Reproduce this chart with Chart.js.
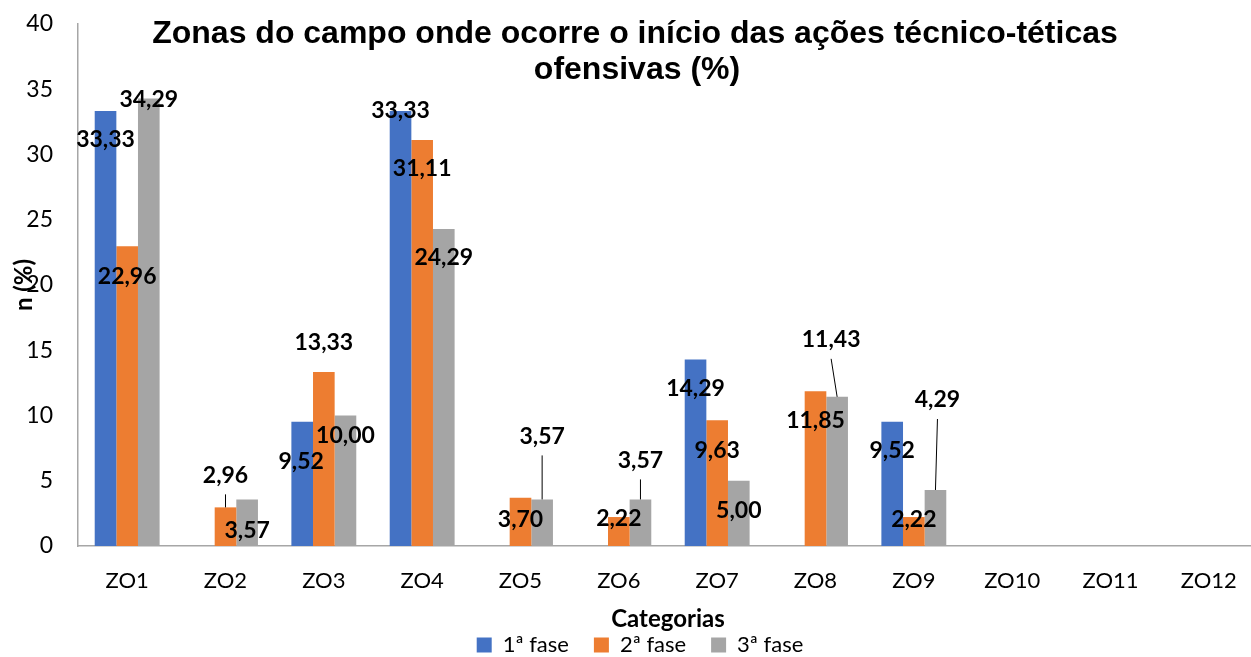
<!DOCTYPE html>
<html>
<head>
<meta charset="utf-8">
<script src="https://cdn.jsdelivr.net/npm/chart.js@4.4.1/dist/chart.umd.min.js"></script>
<style>
html, body { margin: 0; padding: 0; background: #fff; overflow: hidden; }
#wrap { width: 1280px; height: 657px; position: relative; }
</style>
</head>
<body>
<div id="wrap"><canvas id="c"></canvas></div>
<script>
// ---- data ----
const categories = ['ZO1', 'ZO2', 'ZO3', 'ZO4', 'ZO5', 'ZO6', 'ZO7', 'ZO8', 'ZO9', 'ZO10', 'ZO11', 'ZO12'];
const seriesNames = ['1ª fase', '2ª fase', '3ª fase'];
const fase1 = [33.33, null, 9.52, 33.33, null, null, 14.29, null, 9.52, null, null, null];
const fase2 = [22.96, 2.96, 13.33, 31.11, 3.70, 2.22, 9.63, 11.85, 2.22, null, null, null];
const fase3 = [34.29, 3.57, 10.00, 24.29, 3.57, 3.57, 5.00, 11.43, 4.29, null, null, null];
const yTicks = [0, 5, 10, 15, 20, 25, 30, 35, 40];
const titleLines = ['Zonas do campo onde ocorre o início das ações técnico-téticas', 'ofensivas (%)'];
const xTitle = 'Categorias';
const yTitle = 'n (%)';

// ---- styles ----
const colors = ['#4472C4', '#ED7D31', '#A5A5A5'];
const axisColor = '#a6a6a6';
const FONT = 'Lato';

// data-label placement relative to the bar top (dx, dy in px; leader = connector line)
const labelPlacement = [
  [[0, 29], null, [-1, 40], [0, 0], null, null, [0, 29], null, [0, 29], null, null, null],
  [[0, 30], [0, -32, true], [0, -29], [0, 29], [0, 22], [0, 2], [0, 30], [0, 29], [0, 3], null, null, null],
  [[0, 1], [0, 31], [0, 20], [0, 29], [0, -63, true], [0, -39, true], [0, 30], [-6, -57, true], [2, -90, true], null, null, null]
];

const fmt = v => v.toFixed(2).replace('.', ',');

const decorPlugin = {
  id: 'decor',
  afterDatasetsDraw(chart) {
    const ctx = chart.ctx;
    ctx.save();
    ctx.font = 'bold 23px ' + FONT;
    ctx.textAlign = 'center';
    ctx.textBaseline = 'middle';
    chart.data.datasets.forEach((ds, i) => {
      const meta = chart.getDatasetMeta(i);
      meta.data.forEach((el, j) => {
        const v = ds.data[j];
        const p = labelPlacement[i][j];
        if (v === null || v === undefined || !p) return;
        const lx = el.x + p[0];
        const ly = el.y + p[1];
        if (p[2]) {
          ctx.strokeStyle = '#000';
          ctx.lineWidth = 1;
          ctx.beginPath();
          ctx.moveTo(lx, ly + 19);
          ctx.lineTo(el.x, el.y);
          ctx.stroke();
        }
        ctx.fillStyle = '#000';
        ctx.fillText(fmt(v), lx, ly);
      });
    });
    ctx.restore();
  },
  afterDraw(chart) {
    const ctx = chart.ctx;
    const area = chart.chartArea;
    ctx.save();
    // chart title (drawn over the plot, as in the reference)
    ctx.fillStyle = '#000';
    ctx.font = 'bold 32px "Liberation Sans", Arial, sans-serif';
    ctx.textAlign = 'center';
    ctx.textBaseline = 'alphabetic';
    ctx.fillText(titleLines[0], 635, 43);
    ctx.fillText(titleLines[1], 637, 79);
    // y axis title
    ctx.font = 'bold 24px ' + FONT;
    ctx.textBaseline = 'middle';
    ctx.translate(24, (area.top + area.bottom) / 2);
    ctx.rotate(-Math.PI / 2);
    ctx.fillText(yTitle, 0, 0);
    ctx.restore();
  }
};

new Chart(document.getElementById('c'), {
  type: 'bar',
  data: {
    labels: categories,
    datasets: [
      { label: seriesNames[0], data: fase1, backgroundColor: colors[0] },
      { label: seriesNames[1], data: fase2, backgroundColor: colors[1] },
      { label: seriesNames[2], data: fase3, backgroundColor: colors[2] }
    ]
  },
  options: {
    responsive: true,
    maintainAspectRatio: false,
    animation: false,
    devicePixelRatio: 1,
    layout: { padding: { left: 22, right: 22, top: 24, bottom: -9 } },
    datasets: { bar: { categoryPercentage: 0.66, barPercentage: 1.0, borderWidth: 0 } },
    plugins: {
      title: { display: false },
      tooltip: { enabled: false },
      legend: {
        position: 'bottom',
        labels: {
          boxWidth: 15,
          boxHeight: 15,
          padding: 25,
          color: '#000',
          font: { family: FONT, size: 22 }
        }
      }
    },
    scales: {
      x: {
        grid: { display: false, drawTicks: false },
        border: { display: true, color: axisColor, width: 1.5 },
        ticks: { color: '#000', font: { family: FONT, size: 22 }, padding: 22, maxRotation: 0, autoSkip: false },
        title: { display: true, text: xTitle, color: '#000', font: { family: FONT, size: 24, weight: 'bold' }, padding: { top: 0, bottom: -25 } },
        afterFit(s) {
          const lh = s.chart.legend ? s.chart.legend.height : 0;
          s.height = 666 - 546 - lh;
        }
      },
      y: {
        min: 0,
        max: 40,
        grid: { display: false, drawTicks: false },
        border: { display: true, color: axisColor, width: 1.5 },
        ticks: { color: '#000', font: { family: FONT, size: 23 }, padding: 25 },
        afterBuildTicks(s) { s.ticks = yTicks.map(v => ({ value: v })); },
        afterFit(s) { s.width = 56; s.paddingTop = 0; s.paddingBottom = 0; }
      }
    }
  },
  plugins: [decorPlugin]
});
</script>
</body>
</html>
